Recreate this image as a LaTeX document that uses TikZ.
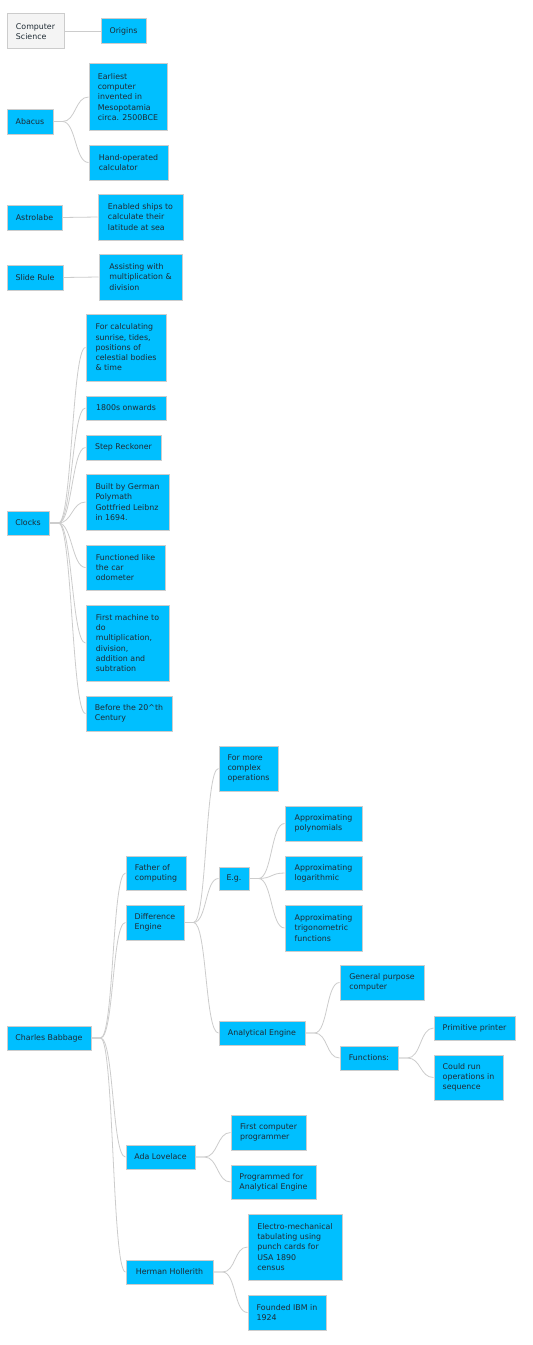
\documentclass[tikz,border=0pt]{standalone}
\usepackage{fontspec}
\setmainfont{DejaVu Sans}
\definecolor{leafblue}{HTML}{00BFFF}
\definecolor{edgegray}{HTML}{CCCCCC}
\definecolor{inkdark}{HTML}{1E2A33}
\definecolor{rootgray}{HTML}{F4F4F4}
\tikzset{
	topic/.style={rectangle, draw=edgegray, line width=0.75pt, fill=leafblue, text=inkdark,
		align=left, font=\fontsize{5.9pt}{7.7pt}\selectfont, inner xsep=5.25pt, inner ysep=2pt},
	root/.style={topic, fill=rootgray},
	sz/.style 2 args={minimum width=#1*0.75pt, minimum height=#2*0.75pt},
	link/.style={draw=edgegray, line width=0.6pt},
	branch/.style={link, to path={-- ++(9,0) .. controls +(13.5,0) and +(-13.5,0) .. (\tikztotarget)}}
}
\begin{document}
\begin{tikzpicture}[x=0.75pt, y=-0.75pt]
	\fill[white] (0,0) rectangle (532,1345);
	\useasboundingbox (0,0) rectangle (532,1345);
	% first trees
	\node[root, sz={57}{35}] (cs) at (35.5,31.5) {Computer\\Science};
	\node[topic, sz={45}{25}] (origins) at (123.5,31.5) {Origins};
	\node[topic, sz={46}{25}] (abacus) at (30,121.5) {Abacus};
	\node[topic, sz={78}{66}] (earliest) at (128,97) {Earliest\\computer\\invented in\\Mesopotamia\\circa. 2500BCE};
	\node[topic, sz={79}{35}] (handop) at (128.5,162.5) {Hand-operated\\calculator};
	\node[topic, sz={55}{25}] (astrolabe) at (34.5,217.5) {Astrolabe};
	\node[topic, sz={85}{46}] (ships) at (140.5,217) {Enabled ships to\\calculate their\\latitude at sea};
	\node[topic, sz={56}{25}] (sliderule) at (35,277.5) {Slide Rule};
	\node[topic, sz={83}{46}] (assist) at (140.5,277) {Assisting with\\multiplication \&\\division};
	% clocks
	\node[topic, sz={42}{24}] (clocks) at (28,523) {Clocks};
	\node[topic, sz={80}{67}] (sunrise) at (126,347.5) {For calculating\\sunrise, tides,\\positions of\\celestial bodies\\\& time};
	\node[topic, sz={80}{24}] (onwards) at (126,408) {1800s onwards};
	\node[topic, sz={75}{25}] (reckoner) at (123.5,447.5) {Step Reckoner};
	\node[topic, sz={83}{56}] (leibnz) at (127.5,502) {Built by German\\Polymath\\Gottfried Leibnz\\in 1694.};
	\node[topic, sz={79}{45}] (odometer) at (125.5,567.5) {Functioned like\\the car\\odometer};
	\node[topic, sz={83}{76}] (firstmachine) at (127.5,643) {First machine to\\do\\multiplication,\\division,\\addition and\\subtration};
	\node[topic, sz={86}{35}] (before) at (129,713.5) {Before the 20\textasciicircum th\\Century};
	% charles babbage
	\node[topic, sz={84}{24}] (babbage) at (49,1038) {Charles Babbage};
	\node[topic, sz={60}{34}] (father) at (156,873) {Father of\\computing};
	\node[topic, sz={58}{35}] (diffeng) at (155,922.5) {Difference\\Engine};
	\node[topic, sz={59}{45}] (complex) at (248.5,768.5) {For more\\complex\\operations};
	\node[topic, sz={30}{23}] (eg) at (234,878.5) {E.g.};
	\node[topic, sz={77}{35}] (poly) at (323.5,823.5) {Approximating\\polynomials};
	\node[topic, sz={77}{34}] (loga) at (323.5,873) {Approximating\\logarithmic};
	\node[topic, sz={77}{46}] (trig) at (323.5,928) {Approximating\\trigonometric\\functions};
	\node[topic, sz={86}{24}] (analeng) at (262,1033) {Analytical Engine};
	\node[topic, sz={84}{35}] (general) at (382,982.5) {General purpose\\computer};
	\node[topic, sz={58}{24}] (functions) at (369,1058) {Functions:};
	\node[topic, sz={81}{24}] (printer) at (474.5,1028) {Primitive printer};
	\node[topic, sz={69}{45}] (seqops) at (468.5,1077.5) {Could run\\operations in\\sequence};
	\node[topic, sz={69}{24}] (ada) at (160.5,1157) {Ada Lovelace};
	\node[topic, sz={75}{35}] (programmer) at (268.5,1132.5) {First computer\\programmer};
	\node[topic, sz={85}{34}] (programmed) at (273.5,1182) {Programmed for\\Analytical Engine};
	\node[topic, sz={87}{24}] (hollerith) at (169.5,1272) {Herman Hollerith};
	\node[topic, sz={94}{66}] (electro) at (295,1247) {Electro-mechanical\\tabulating using\\punch cards for\\USA 1890\\census};
	\node[topic, sz={78}{35}] (ibm) at (287,1312.5) {Founded IBM in\\1924};
	% connectors
	\draw[link] (cs.east) -- (origins.west);
	\draw[link] (astrolabe.east) -- (ships.west);
	\draw[link] (sliderule.east) -- (assist.west);
	\foreach \c in {earliest,handop}
		\draw[branch] (abacus.east) to (\c.west);
	\foreach \c in {sunrise,onwards,reckoner,leibnz,odometer,firstmachine,before}
		\draw[branch] (clocks.east) to (\c.west);
	\foreach \c in {father,diffeng,ada,hollerith}
		\draw[branch] (babbage.east) to (\c.west);
	\foreach \c in {complex,eg,analeng}
		\draw[branch] (diffeng.east) to (\c.west);
	\foreach \c in {poly,loga,trig}
		\draw[branch] (eg.east) to (\c.west);
	\foreach \c in {general,functions}
		\draw[branch] (analeng.east) to (\c.west);
	\foreach \c in {printer,seqops}
		\draw[branch] (functions.east) to (\c.west);
	\foreach \c in {programmer,programmed}
		\draw[branch] (ada.east) to (\c.west);
	\foreach \c in {electro,ibm}
		\draw[branch] (hollerith.east) to (\c.west);
\end{tikzpicture}
\end{document}
